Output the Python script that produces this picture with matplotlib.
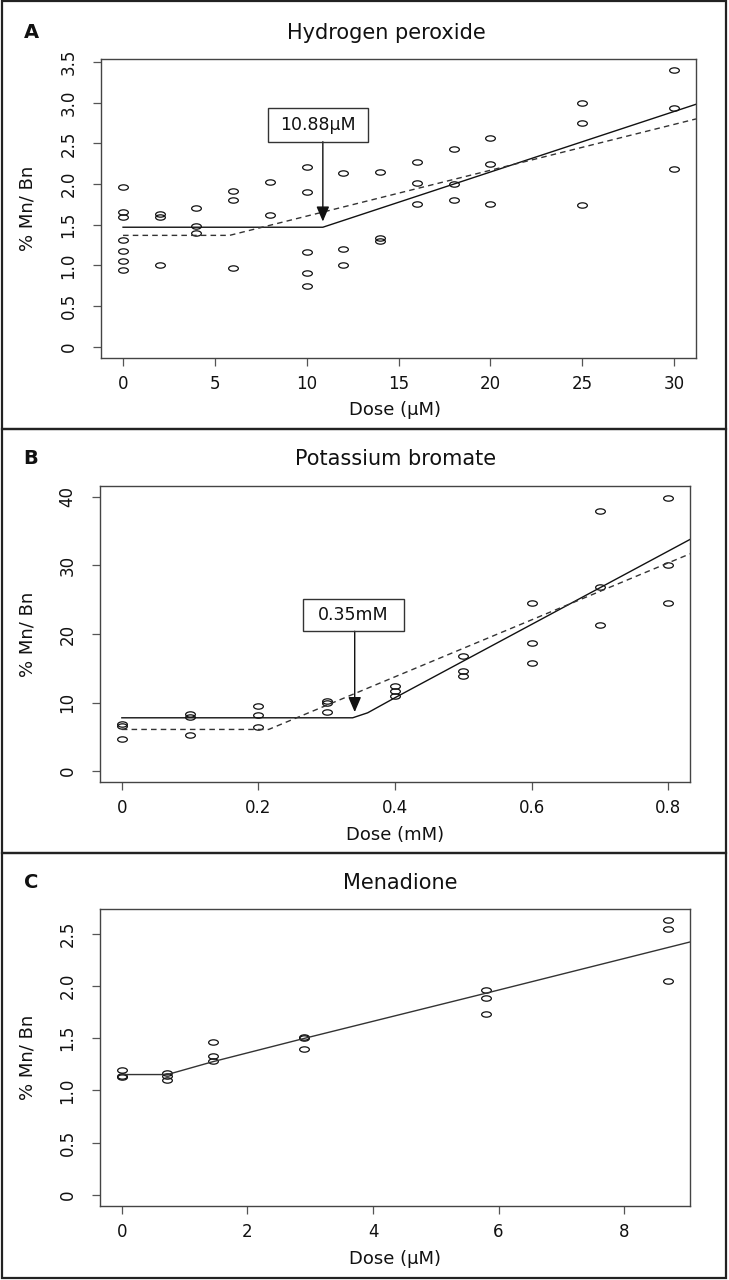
import matplotlib
matplotlib.use("Agg")
import matplotlib.pyplot as plt
import matplotlib.transforms as mtransforms
from matplotlib.path import Path
from matplotlib.patches import Rectangle

# ---------------- data ----------------
# Panel A: Hydrogen peroxide
a_dose = [0, 0, 0, 0, 0, 0, 0, 2, 2, 2, 4, 4, 4, 6, 6, 6, 8, 8,
          10, 10, 10, 10, 10, 12, 12, 12, 14, 14, 14, 16, 16, 16,
          18, 18, 18, 20, 20, 20, 25, 25, 25, 30, 30, 30]
a_resp = [1.96, 1.66, 1.60, 1.31, 1.18, 1.05, 0.95,
          1.63, 1.59, 1.00,
          1.70, 1.48, 1.40,
          1.92, 1.81, 0.97,
          2.02, 1.62,
          2.21, 1.90, 1.16, 0.91, 0.75,
          2.13, 1.20, 1.00,
          2.15, 1.34, 1.30,
          2.27, 2.01, 1.75,
          2.43, 2.00, 1.81,
          2.57, 2.25, 1.75,
          3.00, 2.75, 1.74,
          3.40, 2.93, 2.18]
a_solid_x = [0, 10.88, 31.2]
a_solid_y = [1.47, 1.47, 2.98]
a_dashed_x = [0, 5.8, 31.2]
a_dashed_y = [1.37, 1.37, 2.80]
a_threshold = 10.88
a_label = "10.88\u03bcM"
a_xticks = [0, 5, 10, 15, 20, 25, 30]
a_yticks = [0, 0.5, 1.0, 1.5, 2.0, 2.5, 3.0, 3.5]
a_yticklabels = ["0", "0.5", "1.0", "1.5", "2.0", "2.5", "3.0", "3.5"]

# Panel B: Potassium bromate
b_dose = [0, 0, 0, 0.1, 0.1, 0.1, 0.2, 0.2, 0.2, 0.3, 0.3, 0.3,
          0.4, 0.4, 0.4, 0.5, 0.5, 0.5, 0.6, 0.6, 0.6, 0.7, 0.7, 0.7,
          0.8, 0.8, 0.8]
b_resp = [6.9, 6.6, 4.7,
          8.35, 7.95, 5.3,
          9.5, 8.15, 6.45,
          10.2, 9.9, 8.6,
          12.4, 11.65, 11.0,
          16.75, 14.6, 13.85,
          24.5, 18.7, 15.75,
          38.0, 26.9, 21.35,
          39.9, 30.1, 24.5]
b_solid_x = [0, 0.338, 0.36, 0.38, 0.40, 0.832]
b_solid_y = [7.77, 7.77, 8.5, 9.6, 10.7, 33.8]
b_dashed_x = [0, 0.215, 0.832]
b_dashed_y = [6.07, 6.07, 31.7]
b_threshold = 0.341
b_label = "0.35mM"
b_xticks = [0, 0.2, 0.4, 0.6, 0.8]
b_xticklabels = ["0", "0.2", "0.4", "0.6", "0.8"]
b_yticks = [0, 10, 20, 30, 40]

# Panel C: Menadione
c_dose = [0, 0, 0, 0.725, 0.725, 0.725, 1.45, 1.45, 1.45,
          2.9, 2.9, 2.9, 5.8, 5.8, 5.8, 8.7, 8.7, 8.7]
c_resp = [1.20, 1.14, 1.13,
          1.17, 1.135, 1.10,
          1.46, 1.33, 1.28,
          1.51, 1.50, 1.40,
          1.96, 1.885, 1.73,
          2.63, 2.54, 2.05]
c_solid_x = [0, 0.725, 1.45, 2.9, 5.8, 9.05]
c_solid_y = [1.152, 1.152, 1.275, 1.497, 1.93, 2.42]
c_xticks = [0, 2, 4, 6, 8]
c_yticks = [0, 0.5, 1.0, 1.5, 2.0, 2.5]
c_yticklabels = ["0", "0.5", "1.0", "1.5", "2.0", "2.5"]

titles = ["Hydrogen peroxide", "Potassium bromate", "Menadione"]
panel_letters = ["A", "B", "C"]
xlabels = ["Dose (\u03bcM)", "Dose (mM)", "Dose (\u03bcM)"]
ylabel = "% Mn/ Bn"

# ---------------- layout ----------------
W, H, DPI = 729, 1280, 100
fig = plt.figure(figsize=(W / DPI, H / DPI), dpi=DPI)
fig.patch.set_facecolor("white")
plt.rcParams["font.family"] = ["DejaVu Sans"]


def fx(x):
    return x / W


def fy(y):
    return 1 - y / H


def add_ax(left, top, right, bottom):
    return fig.add_axes([fx(left), fy(bottom), (right - left) / W, (bottom - top) / H])


ell = Path.unit_circle().transformed(mtransforms.Affine2D().scale(1.0, 0.55))

# panel frames
for (t, b) in [(1, 429), (429, 853), (853, 1278)]:
    fig.add_artist(Rectangle((fx(1.5), fy(b)), fx(726) - fx(1.5), fy(t) - fy(b),
                             transform=fig.transFigure, fill=False,
                             edgecolor="#222222", linewidth=1.6))

ax_boxes = [(101, 59, 696, 358), (100, 486, 690, 782), (100, 909, 690, 1206)]
title_pos = [(386, 33), (396, 459), (400, 883)]
letter_pos = [(31, 33), (31, 459), (31, 883)]
xlabel_pos = [(395, 410), (395, 835), (395, 1259)]

axes = [add_ax(*b) for b in ax_boxes]


def style(ax):
    for s in ax.spines.values():
        s.set_color("#444444")
        s.set_linewidth(1.0)
    ax.tick_params(axis="both", direction="out", length=6, width=0.9, color="#555555",
                   labelsize=12, labelcolor="#111111")
    ax.tick_params(axis="x", pad=6)
    ax.tick_params(axis="y", pad=11)
    for lab in ax.get_yticklabels():
        lab.set_rotation(90)
        lab.set_va("center")
        lab.set_ha("right")


def pts(ax, x, y):
    ax.plot(x, y, linestyle="none", marker=ell, markersize=7, markerfacecolor="none",
            markeredgecolor="#111111", markeredgewidth=0.9, clip_on=False)


ARROW = dict(arrowstyle="-|>,head_length=0.7,head_width=0.3",
             color="#111111", lw=1.0, shrinkA=0, shrinkB=0, mutation_scale=13)

# Panel A
ax = axes[0]
pts(ax, a_dose, a_resp)
ax.plot(a_solid_x, a_solid_y, color="#111111", lw=1.0)
ax.plot(a_dashed_x, a_dashed_y, color="#333333", lw=1.0, dashes=(4, 3))
ax.set_xlim(-1.2, 31.2)
ax.set_ylim(-0.136, 3.536)
ax.set_xticks(a_xticks)
ax.set_yticks(a_yticks)
ax.set_yticklabels(a_yticklabels)
ax.add_patch(Rectangle((7.87, 2.52), 13.35 - 7.87, 2.93 - 2.52, fill=False,
                       edgecolor="#333333", lw=1.0, zorder=5))
ax.text((7.87 + 13.35) / 2, (2.52 + 2.93) / 2, a_label, ha="center", va="center",
        fontsize=12.5, color="#111111", zorder=6)
ax.annotate("", xy=(a_threshold, 1.54), xytext=(a_threshold, 2.52), arrowprops=ARROW)

# Panel B
ax = axes[1]
pts(ax, b_dose, b_resp)
ax.plot(b_solid_x, b_solid_y, color="#111111", lw=1.0)
ax.plot(b_dashed_x, b_dashed_y, color="#333333", lw=1.0, dashes=(4, 3))
ax.set_xlim(-0.032, 0.832)
ax.set_ylim(-1.6, 41.6)
ax.set_xticks(b_xticks)
ax.set_xticklabels(b_xticklabels)
ax.set_yticks(b_yticks)
ax.add_patch(Rectangle((0.266, 20.4), 0.413 - 0.266, 25.05 - 20.4, fill=False,
                       edgecolor="#333333", lw=1.0, zorder=5))
ax.text((0.266 + 0.413) / 2, (20.4 + 25.05) / 2, b_label, ha="center", va="center",
        fontsize=12.5, color="#111111", zorder=6)
ax.annotate("", xy=(b_threshold, 8.6), xytext=(b_threshold, 20.4), arrowprops=ARROW)

# Panel C
ax = axes[2]
pts(ax, c_dose, c_resp)
ax.plot(c_solid_x, c_solid_y, color="#333333", lw=1.0)
ax.set_xlim(-0.348, 9.048)
ax.set_ylim(-0.105, 2.735)
ax.set_xticks(c_xticks)
ax.set_yticks(c_yticks)
ax.set_yticklabels(c_yticklabels)

for ax in axes:
    style(ax)

for i in range(3):
    ax = axes[i]
    l, t, r, b = ax_boxes[i]
    fig.text(fx(title_pos[i][0]), fy(title_pos[i][1]), titles[i], ha="center", va="center",
             fontsize=15, color="#111111")
    fig.text(fx(letter_pos[i][0]), fy(letter_pos[i][1]), panel_letters[i], ha="center",
             va="center", fontsize=14, fontweight="bold", color="#111111")
    fig.text(fx(xlabel_pos[i][0]), fy(xlabel_pos[i][1]), xlabels[i], ha="center",
             va="center", fontsize=13, color="#111111")
    fig.text(fx(28), fy((t + b) / 2), ylabel, ha="center", va="center", rotation=90,
             fontsize=13, color="#111111")

fig.savefig("out.png", dpi=DPI, facecolor="white")
